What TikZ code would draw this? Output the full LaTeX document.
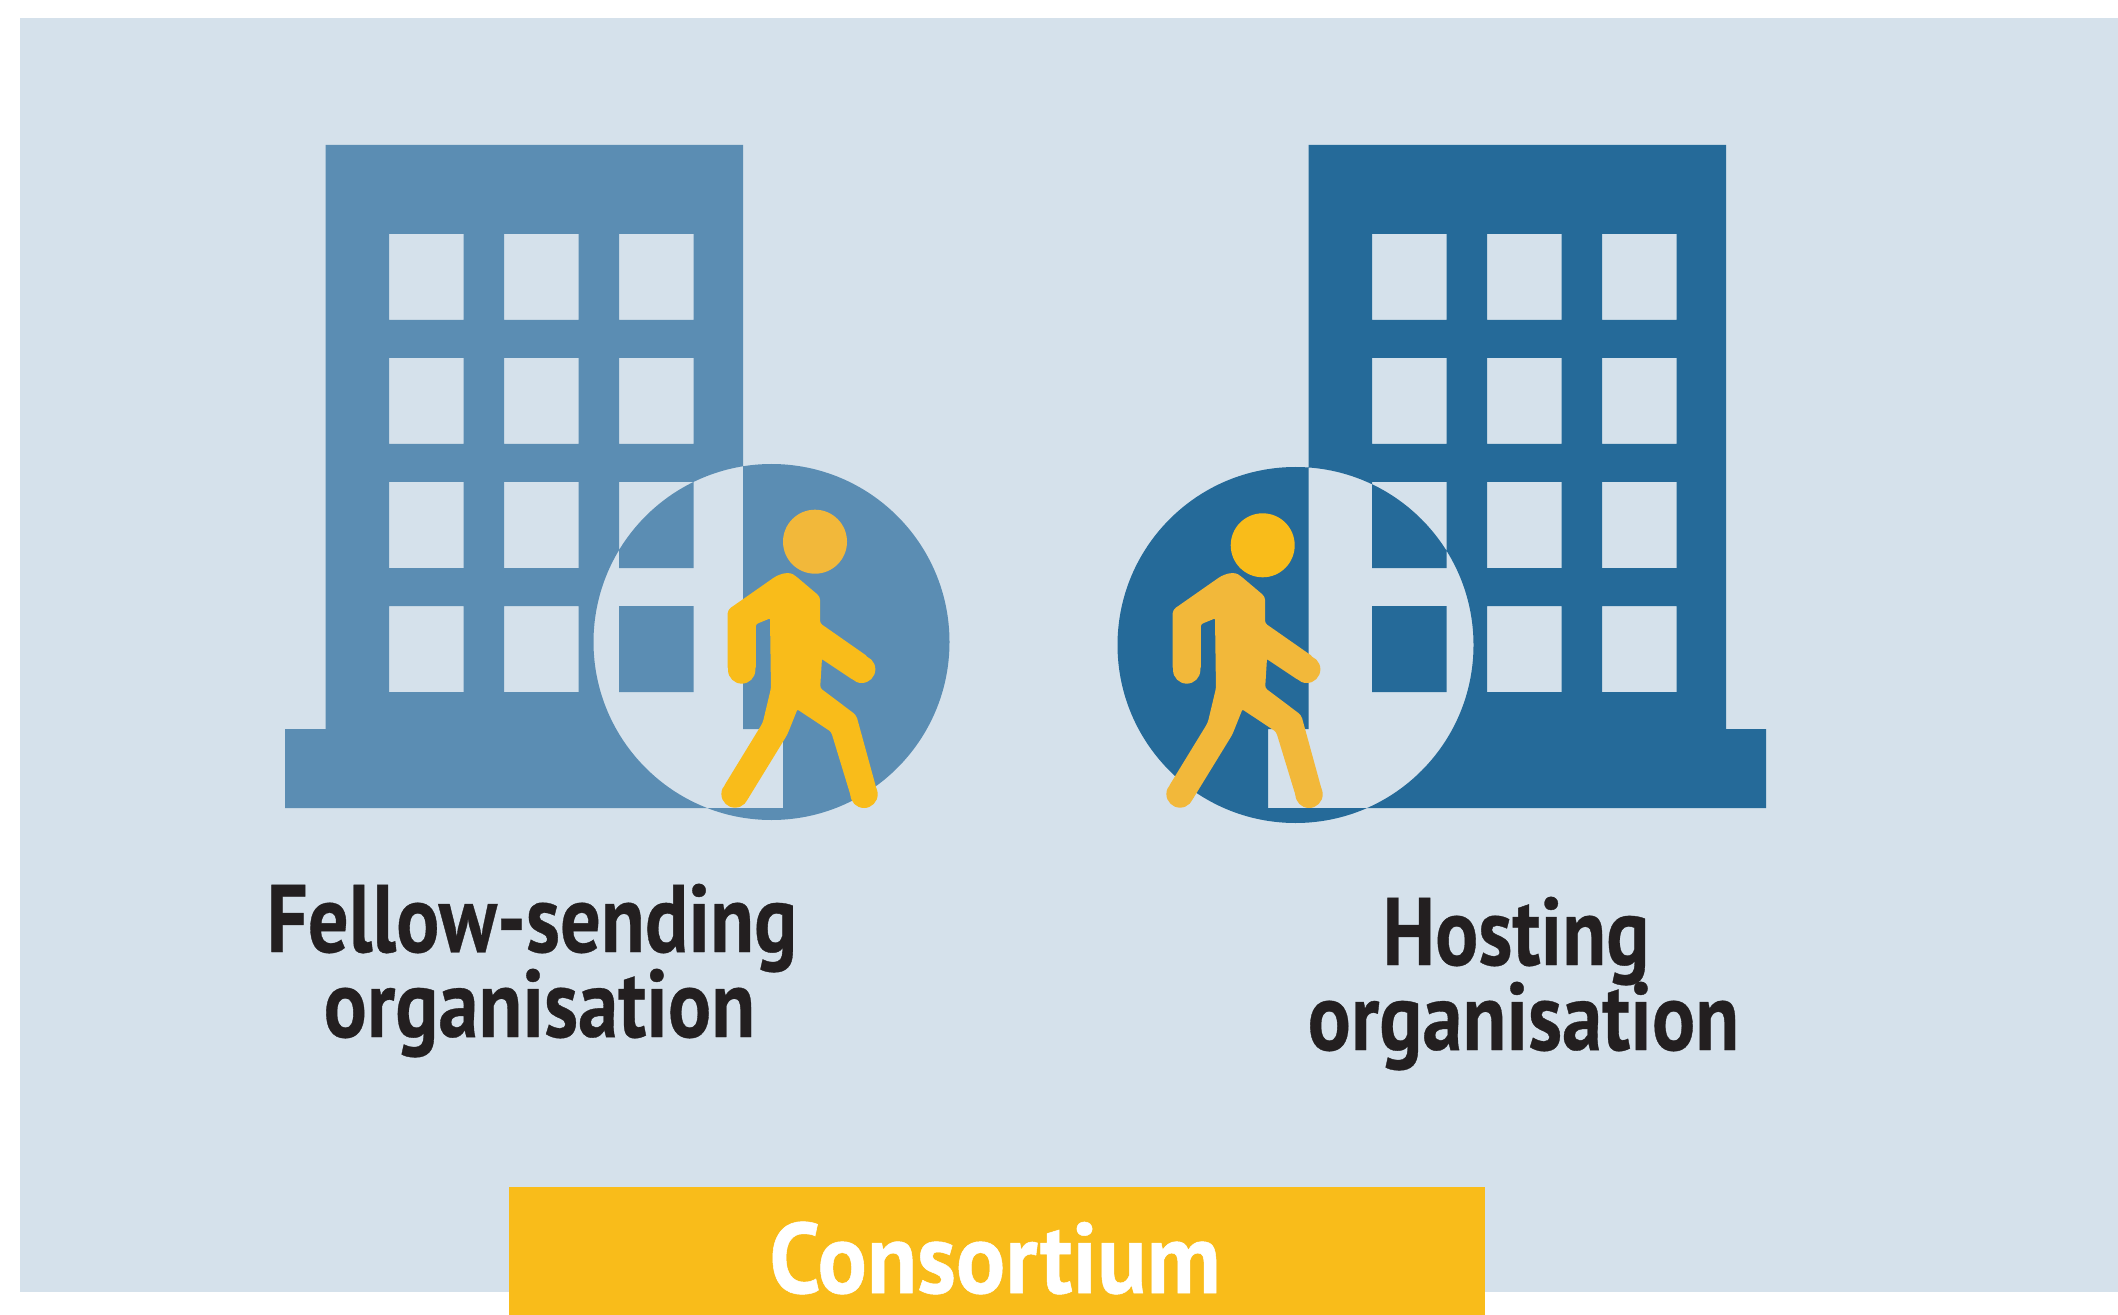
\documentclass[tikz,border=0pt]{standalone}
\usepackage{fontspec}
\setmainfont{PT Sans}[BoldFont={* Bold},BoldFeatures={FakeStretch=0.84,FakeBold=0.35}]
\newfontface\bandface{PT Sans Bold}[FakeStretch=0.92,FakeBold=0.5]
\definecolor{panelbg}{HTML}{D5E1EB}
\definecolor{bluelight}{HTML}{5B8DB3}
\definecolor{bluedark}{HTML}{256A99}
\definecolor{ambera}{HTML}{F9BC1A}
\definecolor{amberb}{HTML}{F2B83A}
\definecolor{inktext}{HTML}{231F20}
\newcommand{\orgtype}{\bfseries\fontsize{48}{42.5}\selectfont\lineskiplimit=-50pt\relax}
\tikzset{
  orglabel/.style={font=\orgtype,text=inktext,align=center,inner sep=0pt,anchor=base},
  bandlabel/.style={font=\bandface\fontsize{50}{50}\selectfont,text=white,inner sep=0pt,anchor=base},
}
% #1 x offset of tower, #2 circle centre, #3 colour
\newcommand{\towerblock}[3]{%
  \fill[#3,even odd rule]
    (285+#1,808) -- (285+#1,729) -- (325.5+#1,729) -- (325.5+#1,145) -- (743+#1,145)
    -- (743+#1,729) -- (783+#1,729) -- (783+#1,808) -- cycle
    \foreach \wx in {389,504,619}{\foreach \wy in {234,358,482,606}{
      (\wx+#1,\wy) rectangle (\wx+74.5+#1,\wy+86)}}
    (#2) circle[radius=178];
}
% #1 anchor, #2 head centre, #3 body colour, #4 head colour
\newcommand{\walkerfig}[4]{%
  \fill[#4] (#2) circle[radius=32];
  \begin{scope}[shift={(#1)},scale=1/3,#3]
  \begin{scope}[shift={(-680,-402)}]
    \filldraw[line width=1.4pt,line join=round,rounded corners=1.5pt]
      (650,412) .. controls (675,402) and (690,402) .. (705,412)
      -- (776,472) -- (776,552) -- (922,654) -- (884,718) -- (782,650) -- (776,746)
      -- (885,828) -- (947,1054) -- (878,1073) -- (817,873) -- (710,802)
      -- (678,882) -- (556,1081) -- (494,1043) -- (612,850) -- (637,745)
      -- (634,529) -- (583,550) -- (583,690) -- (507,690) -- (507,512) -- cycle;
    \fill (545,690) circle[radius=41];
    \fill (905,688) circle[radius=41];
    \fill (525,1062) circle[radius=41];
    \fill (912,1063) circle[radius=41];
  \end{scope}
  \end{scope}
}
\begin{document}
\begin{tikzpicture}[x=0.5pt,y=-0.5pt]
  \useasboundingbox (0,0) rectangle (2118,1315);
  \fill[white] (0,0) rectangle (2118,1315);
  \fill[panelbg] (20,18) rectangle (2118,1292);
  \towerblock{0}{771.5,642}{bluelight}
  \towerblock{983}{1295.5,645}{bluedark}
  \walkerfig{786.7,574}{815,541.7}{ambera}{amberb}
  \walkerfig{1231.7,574}{1262.7,545.3}{amberb}{ambera}
  \node[orglabel] (sender) at (532,1037) {Fellow-sending\\\hspace*{7.4pt}organisation};
  \node[orglabel] (host) at (1516,1050) {Hosting\\\hspace*{7.4pt}organisation};
  \fill[ambera] (509,1187) rectangle (1485,1315);
  \node[bandlabel] (band) at (995,1293) {Consortium};
\end{tikzpicture}
\end{document}
